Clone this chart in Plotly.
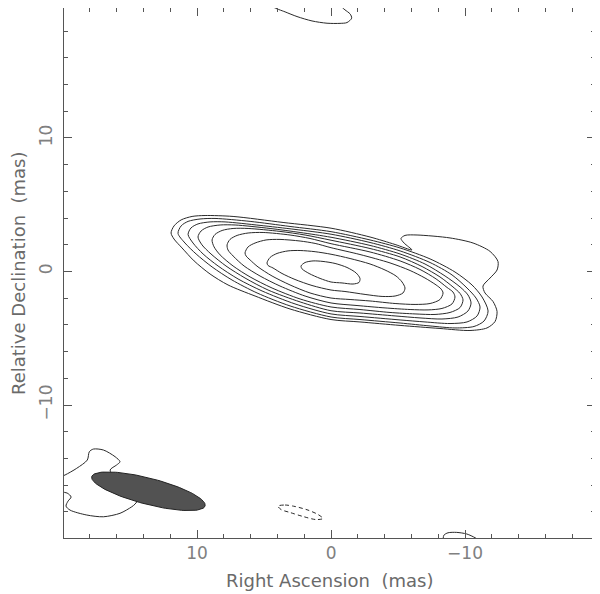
import numpy as np
import plotly.graph_objects as go

# ---------------- data (mas) ----------------
# contour 1 (lowest level, outermost, with notch and right-hand bulges)
c1_x = [11.94, 11.72, 11.19, 10.37, 9.40, 7.31, 3.58, 0.0, -2.91, -4.78, -6.04, -5.45, -5.22, -5.52, -6.42, -8.88,
        -10.60, -11.87, -12.46, -12.39, -11.87, -11.34, -11.49, -12.09, -12.39, -12.24, -11.64, -10.37, -8.13,
        -5.15, -2.16, 0.0, 3.06, 5.67, 7.69, 9.03, 10.22, 11.12, 11.72, 11.94]
c1_y = [2.88, 3.41, 3.86, 4.12, 4.19, 4.12, 3.67, 3.24, 2.58, 2.02, 1.61, 2.13, 2.47, 2.70, 2.73, 2.51,
        2.13, 1.50, 0.75, 0.11, -0.49, -1.09, -1.61, -2.25, -3.00, -3.75, -4.23, -4.42, -4.27,
        -4.04, -3.78, -3.60, -2.81, -1.84, -1.01, -0.19, 0.79, 1.76, 2.43, 2.88]

c2_x = [11.42, 11.19, 10.67, 9.78, 8.66, 6.04, 3.06, 0.0, -2.91, -5.15, -7.39, -9.25, -10.52, -11.27, -11.72,
        -11.42, -10.67, -9.25, -7.39, -5.15, -2.16, 0.0, 3.06, 5.52, 7.39, 8.88, 10.07, 10.90, 11.42]
c2_y = [2.85, 3.41, 3.75, 3.93, 3.97, 3.75, 3.37, 2.98, 2.36, 1.76, 0.94, -0.04, -1.01, -1.91, -2.96,
        -3.71, -4.12, -4.23, -4.08, -3.86, -3.60, -3.41, -2.58, -1.61, -0.64, 0.34, 1.31, 2.13, 2.85]

c3_x = [10.67, 10.45, 9.93, 9.03, 7.91, 5.30, 2.69, 0.0, -2.91, -5.15, -7.39, -9.03, -10.15, -10.82, -11.12,
        -10.90, -10.15, -8.88, -7.01, -5.15, -2.16, 0.0, 2.69, 5.15, 6.94, 8.43, 9.55, 10.30, 10.67]
c3_y = [2.77, 3.26, 3.56, 3.71, 3.71, 3.45, 3.15, 2.79, 2.17, 1.54, 0.67, -0.26, -1.24, -1.99, -2.66,
        -3.33, -3.78, -3.90, -3.78, -3.63, -3.37, -3.18, -2.43, -1.46, -0.56, 0.41, 1.31, 2.13, 2.77]

c4_x = [9.93, 9.70, 9.18, 8.28, 7.16, 4.55, 2.31, 0.0, -2.91, -5.15, -7.01, -8.51, -9.63, -10.22, -10.45,
        -10.22, -9.48, -8.28, -6.64, -4.78, -2.16, 0.0, 2.31, 4.70, 6.42, 7.84, 8.96, 9.63, 9.93]
c4_y = [2.58, 3.03, 3.33, 3.48, 3.48, 3.22, 2.92, 2.56, 1.95, 1.31, 0.56, -0.34, -1.16, -1.76, -2.36,
        -2.96, -3.41, -3.56, -3.48, -3.33, -3.11, -2.94, -2.28, -1.39, -0.49, 0.41, 1.31, 1.99, 2.58]

c5_x = [8.88, 8.66, 8.13, 7.31, 6.19, 3.81, 1.94, 0.0, -2.91, -5.15, -6.79, -8.13, -9.10, -9.63, -9.85,
        -9.63, -8.88, -7.76, -6.27, -4.40, -2.16, 0.0, 2.31, 4.40, 6.04, 7.31, 8.28, 8.73, 8.88]
c5_y = [2.36, 2.77, 3.07, 3.22, 3.22, 3.00, 2.73, 2.34, 1.72, 1.09, 0.37, -0.41, -1.16, -1.65, -2.13,
        -2.70, -3.07, -3.22, -3.18, -3.07, -2.85, -2.66, -2.06, -1.24, -0.41, 0.41, 1.24, 1.84, 2.36]

c6_x = [7.76, 7.54, 7.01, 6.19, 5.07, 3.06, 1.57, 0.0, -2.91, -5.15, -6.64, -7.84, -8.66, -9.10, -9.25,
        -9.03, -8.28, -7.24, -5.90, -4.03, -1.94, 0.0, 1.94, 3.81, 5.30, 6.49, 7.31, 7.69, 7.76]
c6_y = [1.99, 2.40, 2.70, 2.88, 2.92, 2.73, 2.47, 2.08, 1.46, 0.79, 0.15, -0.56, -1.20, -1.54, -1.91,
        -2.43, -2.77, -2.88, -2.85, -2.73, -2.55, -2.36, -1.84, -1.09, -0.34, 0.41, 1.16, 1.61, 1.99]

c7_x = [6.42, 6.19, 5.67, 4.85, 3.81, 2.31, 1.19, 0.0, -2.16, -4.40, -5.90, -7.01, -7.84, -8.21, -8.36,
        -8.13, -7.39, -6.27, -4.78, -2.91, -1.42, 0.0, 1.57, 3.06, 4.40, 5.45, 6.04, 6.34, 6.42]
c7_y = [1.39, 1.84, 2.13, 2.36, 2.40, 2.28, 2.10, 1.78, 1.27, 0.64, 0.07, -0.49, -1.01, -1.31, -1.61,
        -2.10, -2.40, -2.47, -2.40, -2.21, -2.10, -1.99, -1.61, -1.01, -0.34, 0.34, 0.86, 1.16, 1.39]

c8_x = [4.78, 4.55, 4.03, 3.21, 2.31, 1.19, 0.0, -1.42, -2.91, -4.03, -4.85, -5.30, -5.52, -5.37, -4.78,
        -3.81, -2.54, -1.04, 0.0, 1.42, 2.69, 3.66, 4.33, 4.70, 4.78]
c8_y = [0.64, 1.05, 1.35, 1.54, 1.57, 1.48, 1.29, 0.97, 0.56, 0.11, -0.34, -0.79, -1.24, -1.61, -1.84,
        -1.87, -1.72, -1.50, -1.39, -1.05, -0.60, -0.15, 0.26, 0.45, 0.64]

c9_x = [2.24, 1.94, 1.34, 0.60, -0.30, -1.19, -1.87, -2.16, -2.09, -1.64, -0.82, 0.0, 0.82, 1.64, 2.16, 2.24]
c9_y = [0.41, 0.67, 0.79, 0.75, 0.60, 0.30, -0.11, -0.52, -0.82, -0.94, -0.86, -0.79, -0.52, -0.15, 0.19, 0.41]

# small positive contours at the map edges
top_x = [4.50, 4.31, 3.43, 2.54, 1.42, 0.30, -0.67, -1.19, -1.54, -1.42, -1.04, -0.80, -0.65]
top_y = [20.10, 19.81, 19.44, 19.09, 18.76, 18.59, 18.58, 18.64, 18.97, 19.29, 19.59, 19.81, 20.10]

bl_x = [20.22, 19.85, 18.98, 18.19, 18.04, 17.74, 16.99, 16.12, 15.75, 16.00, 16.49, 16.12, 15.00, 14.40,
        14.63, 14.87, 15.75, 16.99, 18.23, 19.48, 19.78, 19.63, 19.40, 19.70, 20.22]
bl_y = [-15.39, -15.24, -14.74, -14.12, -13.50, -13.30, -13.37, -13.87, -14.25, -14.49, -14.87, -15.47, -16.37, -17.04,
        -17.42, -17.62, -18.11, -18.37, -18.24, -17.87, -17.57, -17.20, -16.89, -16.59, -16.52]

br_x = [-8.36, -8.43, -8.73, -9.38, -10.13, -10.75, -11.12]
br_y = [-20.04, -19.74, -19.57, -19.54, -19.66, -19.94, -20.19]

# negative contour (dashed)
neg_x = [3.96, 3.43, 2.69, 1.72, 0.97, 0.60, 1.12, 2.09, 3.06, 3.73, 3.96]
neg_y = [-17.57, -17.49, -17.60, -17.87, -18.20, -18.50, -18.58, -18.35, -18.05, -17.83, -17.57]

# restoring beam: centre (mas), semi-axes (mas), tilt of major axis (deg)
beam_x0, beam_y0 = 13.63, -16.46
beam_a, beam_b = 4.37, 0.98
beam_angle = -14.5

x_tickvals = [10, 0, -10]
y_tickvals = [-10, 0, 10]
x_range = [19.93, -19.70]
y_range = [-19.96, 19.73]
x_title = "Right Ascension \u00a0(mas)"
y_title = "Relative Declination \u00a0(mas)"

# ---------------- figure ----------------
fig = go.Figure()
line_col = "#2a2a2a"
pos_contours = [(c1_x, c1_y), (c2_x, c2_y), (c3_x, c3_y), (c4_x, c4_y), (c5_x, c5_y),
                (c6_x, c6_y), (c7_x, c7_y), (c8_x, c8_y), (c9_x, c9_y),
                (top_x, top_y), (bl_x, bl_y), (br_x, br_y)]
for cx, cy in pos_contours:
    fig.add_trace(go.Scatter(x=cx, y=cy, mode="lines",
                             line=dict(color=line_col, width=1, shape="spline", smoothing=0.8),
                             hoverinfo="skip", showlegend=False))
fig.add_trace(go.Scatter(x=neg_x, y=neg_y, mode="lines",
                         line=dict(color=line_col, width=1, shape="spline", smoothing=0.8, dash="4px,3px"),
                         hoverinfo="skip", showlegend=False))

# beam ellipse (screen-space tilt: RA axis reversed)
t = np.linspace(0, 2 * np.pi, 121)
ang = np.deg2rad(beam_angle)
ex = beam_a * np.cos(t)
ey = beam_b * np.sin(t)
bx = beam_x0 - (ex * np.cos(ang) - ey * np.sin(ang))
by = beam_y0 + (ex * np.sin(ang) + ey * np.cos(ang))
fig.add_trace(go.Scatter(x=bx, y=by, mode="lines", fill="toself", fillcolor="#525252",
                         line=dict(color="#222222", width=1), hoverinfo="skip", showlegend=False))

axis_common = dict(
    showgrid=False, zeroline=False, showline=True, linecolor="#555555", linewidth=1,
    mirror="allticks", ticks="inside", ticklen=8, tickwidth=1, tickcolor="#555555",
    minor=dict(ticks="inside", ticklen=4, tickwidth=1, tickcolor="#555555", dtick=2, showgrid=False),
    tickfont=dict(family="DejaVu Sans", size=17, color="#808080"),
    automargin=False,
)
fig.update_xaxes(range=x_range, tickmode="array", tickvals=x_tickvals, **axis_common)
fig.update_yaxes(range=y_range, tickmode="array", tickvals=y_tickvals, tickangle=-90,
                 ticklabelstandoff=4, **axis_common)

title_font = dict(family="DejaVu Sans", size=18, color="#6a6a6a")
fig.add_annotation(text=x_title, xref="paper", yref="paper", x=0.5, y=0, xanchor="center", yanchor="middle",
                   yshift=-42, showarrow=False, font=title_font)
fig.add_annotation(text=y_title, xref="paper", yref="paper", x=0, y=0.5, xanchor="center", yanchor="middle",
                   xshift=-46, textangle=-90, showarrow=False, font=title_font)

fig.update_layout(width=600, height=594, margin=dict(l=56, r=13, t=0, b=64),
                  plot_bgcolor="white", paper_bgcolor="white")
fig.write_html("out.html")
